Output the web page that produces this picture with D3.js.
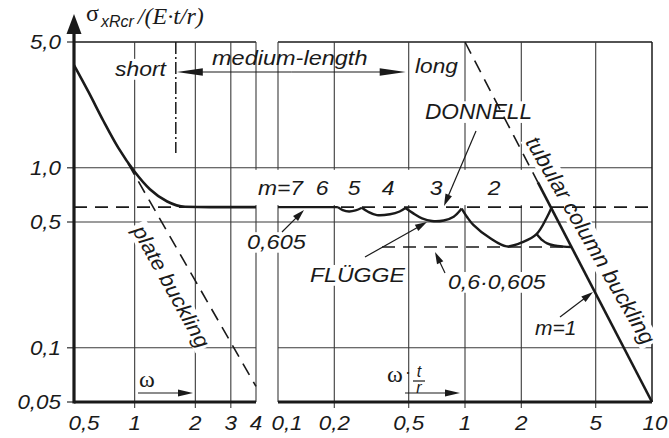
<!DOCTYPE html>
<html><head><meta charset="utf-8">
<script src="https://cdn.jsdelivr.net/npm/d3@7"></script>
<style>
html,body{margin:0;padding:0;background:#fff;}
svg{display:block;}
text{font-family:"Liberation Sans",Arial,sans-serif;font-style:italic;fill:#1a1a1a;}
</style></head><body>
<svg id="chart" width="669" height="438"></svg>
<script>
// ---------- axis ticks ----------
const yTicks = [0.05, 0.1, 0.5, 1.0, 5.0];
const yTickLabels = ["0,05", "0,1", "0,5", "1,0", "5,0"];
const omegaTicks = [0.5, 1, 2, 3, 4];
const omegaTickLabels = ["0,5", "1", "2", "3", "4"];
const relTicks = [0.1, 0.2, 0.5, 1, 2, 5, 10];
const relTickLabels = ["0,1", "0,2", "0,5", "1", "2", "5", "10"];

// ---------- short cylinders (left panel, over ω) ----------
const shortOmega = [0.5, 0.59, 0.7, 0.83, 1.0, 1.19, 1.45, 1.78, 2.36, 4];
const shortSigma = [3.72, 2.64, 1.82, 1.29, 0.95, 0.76, 0.65, 0.608, 0.605, 0.605];
const plateOmega = [0.926, 4];
const plateSigma = [1.06, 0.061];
const shortLimitOmega = 1.6;

// ---------- reference levels ----------
const classicalSigma = 0.605;
const reducedSigma = 0.363;          // 0,6·0,605
const reducedFrom = 0.36, reducedTo = 3.72;

// ---------- FLÜGGE mode branches (right panel, over ω·t/r) ----------
const fluggeM7 = [[0.1, 0.605], [0.209, 0.605]];
const fluggeM5 = [[0.209, 0.605], [0.222, 0.582], [0.24, 0.572], [0.26, 0.58], [0.281, 0.6]];
const fluggeM4 = [[0.281, 0.6], [0.303, 0.57], [0.338, 0.546], [0.397, 0.552], [0.447, 0.572], [0.48, 0.598]];
const fluggeM3 = [[0.48, 0.598], [0.527, 0.56], [0.589, 0.524], [0.666, 0.506], [0.77, 0.51], [0.87, 0.535], [0.96, 0.594]];
const fluggeM2 = [[0.96, 0.594], [1.03, 0.53], [1.108, 0.482], [1.36, 0.407], [1.67, 0.366], [2.05, 0.388], [2.42, 0.43], [2.73, 0.526], [2.9, 0.6]];
const fluggeM1 = [[2.42, 0.428], [2.6, 0.395], [2.75, 0.38], [3.0, 0.37], [3.36, 0.365], [3.72, 0.363]];

// tubular column buckling line
const columnDashed = [[1, 5], [2.45, 0.833]];
const columnSolid = [[2.45, 0.833], [10, 0.05]];

// ---------- scales ----------
const svg = d3.select("#chart");
const yS = d3.scaleLog().domain([0.05, 5]).range([402, 42]);
const xL = d3.scaleLog().domain([0.5, 4]).range([74, 256]);
const xR = d3.scaleLog().domain([0.1, 10]).range([278, 652]);
const INK = "#1a1a1a", GRID = "#3a3a3a";

function hline(x1, x2, y, w, col, dash) {
  const l = svg.append("line").attr("x1", x1).attr("x2", x2).attr("y1", y).attr("y2", y)
    .attr("stroke", col || GRID).attr("stroke-width", w || 1.1);
  if (dash) l.attr("stroke-dasharray", dash);
  return l;
}
function vline(x, y1, y2, w, col, dash) {
  const l = svg.append("line").attr("x1", x).attr("x2", x).attr("y1", y1).attr("y2", y2)
    .attr("stroke", col || GRID).attr("stroke-width", w || 1.1);
  if (dash) l.attr("stroke-dasharray", dash);
  return l;
}

// ---------- grid ----------
const yTop = yS(5), yBot = yS(0.05);
[0.5, 1.0].forEach(v => hline(xL(0.5), xR(10), yS(v)));
hline(xL(0.5), xL(4), yS(0.1));
hline(xR(0.1), xR(10), yS(0.1));
hline(xL(0.5), xL(4), yTop, 1.4, INK);
hline(xR(0.1), xR(10), yTop, 1.4, INK);
omegaTicks.slice(1).forEach(v => vline(xL(v), yTop, yBot + (v < 4 ? 6 : 0)));
relTicks.forEach(v => vline(xR(v), yTop, yBot + (v > 0.1 && v < 10 ? 6 : 0), v === 10 ? 1.5 : 1.1, v === 10 ? INK : GRID));

// white band behind the mode numbers
svg.append("rect").attr("x", 250).attr("y", yS(1.0) + 2).attr("width", 282)
  .attr("height", yS(classicalSigma) - yS(1.0) - 4).attr("fill", "#fff");

// ---------- labels ----------
function label(x, y, str, o = {}) {
  const g = svg.append("g")
    .attr("transform", `translate(${x},${y}) rotate(${o.rot || 0}) scale(${o.sx || 1},1)`);
  const t = g.append("text").attr("font-size", o.size || 21)
    .attr("text-anchor", o.anchor || "start").text(str);
  if (o.family) t.style("font-family", o.family);
  if (o.upright) t.style("font-style", "normal");
  if (o.bg) {
    const b = t.node().getBBox();
    g.insert("rect", "text").attr("x", b.x - 2).attr("y", b.y + 2)
      .attr("width", b.width + 4).attr("height", b.height - 3).attr("fill", "#fff");
  }
  return t;
}

label(115, 76, "short", { sx: 1.09, bg: true });
label(212, 65, "medium-length", { sx: 1.12 });
label(415, 73, "long", { sx: 1.08 });
label(425, 119, "DONNELL", { size: 22, sx: 1.03, bg: true });

const modeNames = ["m=7", "6", "5", "4", "3", "2"];
const modePix = [280.5, 322, 354, 388, 436, 494];
modeNames.forEach((m, i) => label(modePix[i], 195, m, { anchor: "middle", sx: 1.09 }));

label(247, 249, "0,605", { sx: 1.12, bg: true });
label(310, 282, "FLÜGGE", { sx: 1.1, bg: true });
label(448, 289, "0,6·0,605", { sx: 1.1, bg: true });
label(535, 335, "m=1", { sx: 1.0 });
label(165, 290, "plate buckling", { rot: 61, anchor: "middle", sx: 1.06, bg: true });
label(584, 244, "tubular column buckling", { rot: 60, anchor: "middle", size: 22, sx: 1.02, bg: true });

// ---------- curves ----------
const lineL = d3.line().x(d => xL(d[0])).y(d => yS(d[1]));
const lineR = d3.line().x(d => xR(d[0])).y(d => yS(d[1]));
const DASH = "13,8";

// 0,605 reference
svg.append("path").attr("d", lineL([[0.5, classicalSigma], [4, classicalSigma]]))
  .attr("fill", "none").attr("stroke", INK).attr("stroke-width", 1.6).attr("stroke-dasharray", DASH);
svg.append("path").attr("d", lineR([[0.1, classicalSigma], [10, classicalSigma]]))
  .attr("fill", "none").attr("stroke", INK).attr("stroke-width", 1.6).attr("stroke-dasharray", DASH);
// 0,6·0,605 reference
svg.append("path").attr("d", lineR([[reducedFrom, reducedSigma], [reducedTo, reducedSigma]]))
  .attr("fill", "none").attr("stroke", INK).attr("stroke-width", 1.6).attr("stroke-dasharray", DASH);
// plate buckling
svg.append("path").attr("d", lineL(plateOmega.map((w, i) => [w, plateSigma[i]])))
  .attr("fill", "none").attr("stroke", INK).attr("stroke-width", 1.6).attr("stroke-dasharray", DASH);
// short / medium limit (dash-dot)
vline(xL(shortLimitOmega), yTop, 153, 1.5, INK, "12,3,2,3");

// short-cylinder curve
svg.append("path")
  .attr("d", lineL.curve(d3.curveMonotoneX)(shortOmega.map((w, i) => [w, shortSigma[i]])))
  .attr("fill", "none").attr("stroke", INK).attr("stroke-width", 2.6);

// column buckling
svg.append("path").attr("d", d3.line().x(d => xR(d[0])).y(d => yS(d[1]))(columnDashed))
  .attr("fill", "none").attr("stroke", INK).attr("stroke-width", 1.6).attr("stroke-dasharray", DASH);
svg.append("path").attr("d", d3.line().x(d => xR(d[0])).y(d => yS(d[1]))(columnSolid))
  .attr("fill", "none").attr("stroke", INK).attr("stroke-width", 2.6);

// FLÜGGE branches
const modeLine = d3.line().x(d => xR(d[0])).y(d => yS(d[1])).curve(d3.curveCatmullRom.alpha(0.5));
[fluggeM7, fluggeM5, fluggeM4, fluggeM3, fluggeM2, fluggeM1].forEach(seg => {
  svg.append("path").attr("d", modeLine(seg)).attr("fill", "none")
    .attr("stroke", INK).attr("stroke-width", 2.4).attr("stroke-linejoin", "round");
});

// ---------- axes ----------
hline(xL(0.5), xL(4), yBot, 3.2, INK);
hline(xR(0.1), xR(10), yBot, 3.2, INK);
vline(xL(0.5), yBot + 1.6, 30, 3.2, INK);
svg.append("path").attr("d", `M${xL(0.5)},14 L${xL(0.5) - 7.5},34 L${xL(0.5) + 7.5},34 Z`).attr("fill", INK);

yTicks.forEach((v, i) => {
  hline(67, xL(0.5), yS(v), 1.1, INK);
  label(61, yS(v) + 7, yTickLabels[i], { anchor: "end", size: 20, sx: 1.12 });
});
omegaTicks.forEach((v, i) => label(xL(v) + (i === 0 ? 10 : 0), 430, omegaTickLabels[i], { anchor: "middle", size: 20, sx: 1.12 }));
relTicks.forEach((v, i) => label(xR(v) + (i === 0 ? 9 : i === relTicks.length - 1 ? 3 : 0), 430, relTickLabels[i], { anchor: "middle", size: 20, sx: 1.12 }));

// axis title  σ_xRcr /(E·t/r)
const title = svg.append("text").attr("x", 86).attr("y", 21).style("font-style", "normal");
title.append("tspan").style("font-family", "'Liberation Serif',serif").attr("font-size", 24).text("σ");
title.append("tspan").attr("font-size", 16).attr("dy", 6).attr("dx", 2).style("font-style", "italic").text("xRcr");
title.append("tspan").style("font-family", "'Liberation Serif',serif").style("font-style", "italic")
  .attr("font-size", 24).attr("dy", -3).attr("dx", 4).text("/(E·t/r)");

// ---------- arrows ----------
function arrow(x1, y1, x2, y2, len = 12, half = 3.5, w = 1.2) {
  const a = Math.atan2(y2 - y1, x2 - x1), c = Math.cos(a), s = Math.sin(a);
  const bx = x2 - c * len, by = y2 - s * len;
  svg.append("line").attr("x1", x1).attr("y1", y1).attr("x2", bx + c * 2).attr("y2", by + s * 2)
    .attr("stroke", INK).attr("stroke-width", w);
  svg.append("path").attr("d", `M${x2},${y2} L${bx - s * half},${by + c * half} L${bx + s * half},${by - c * half} Z`)
    .attr("fill", INK);
}
// medium-length span
const spanY = 72, spanL = xL(shortLimitOmega) + 1, spanR = xR(0.5) - 3;
arrow((spanL + spanR) / 2, spanY, spanL, spanY, 26, 3.8);
arrow((spanL + spanR) / 2, spanY, spanR, spanY, 26, 3.8);

arrow(282, 232, 304, 210);
arrow(365, 257, 427, 222);
arrow(445, 273, 435, 252);
arrow(476, 131, 444, 206);
arrow(560, 317, 593, 292);
arrow(138, 393, 193, 393, 15, 3.4);
arrow(405, 393, 460, 393, 15, 3.4);

// abscissa markers: ω and ω·t/r
label(147, 387, "ω", { anchor: "middle", size: 24, family: "'Liberation Serif',serif", upright: true });
label(395, 382, "ω", { anchor: "middle", size: 24, family: "'Liberation Serif',serif", upright: true });
label(408, 378, "·", { anchor: "middle", size: 18, upright: true });
label(419, 377, "t", { anchor: "middle", size: 16 });
hline(413, 425, 381, 1.2, INK);
label(419, 393, "r", { anchor: "middle", size: 16 });
</script>
</body></html>
